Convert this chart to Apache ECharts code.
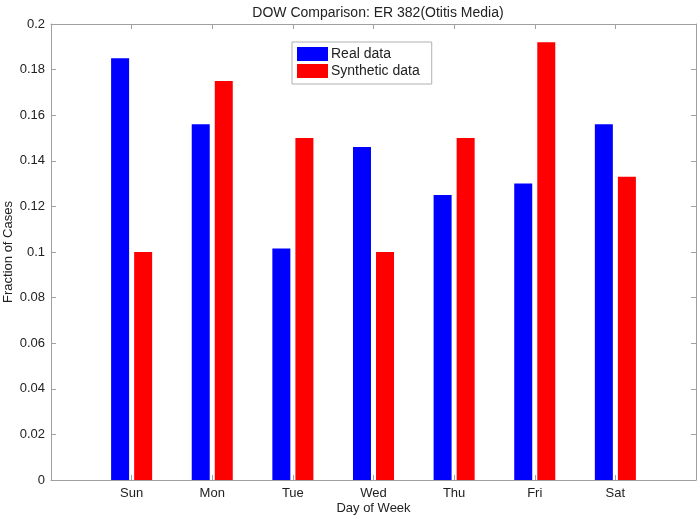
<!DOCTYPE html>
<html><head><meta charset="utf-8">
<script src="https://cdn.jsdelivr.net/npm/echarts@6/dist/echarts.min.js"></script>
<style>html,body{margin:0;padding:0;background:#fff}#c{width:698px;height:516px}</style>
</head><body><div id="c"></div>
<script>
const days = ['Sun','Mon','Tue','Wed','Thu','Fri','Sat'];
const realData = [0.185, 0.156, 0.1015, 0.146, 0.125, 0.130, 0.156];
const syntheticData = [0.100, 0.175, 0.150, 0.100, 0.150, 0.192, 0.133];
const yTicks = [0, 0.02, 0.04, 0.06, 0.08, 0.1, 0.12, 0.14, 0.16, 0.18, 0.2];

const font = 'Liberation Sans, Arial, sans-serif';
const axisCol = '#a0a0a0';
const chart = echarts.init(document.getElementById('c'));
const mk = arr => arr.map((v, i) => [i + 1, v]);
const lineStyle = {show: true, onZero: false, lineStyle: {color: axisCol, width: 1}};
const tick = {show: true, inside: true, length: 5, lineStyle: {color: axisCol}};
chart.setOption({
  animation: false,
  title: {text: 'DOW Comparison: ER 382(Otitis Media)', left: 373, textAlign: 'center', top: 1,
    textStyle: {fontFamily: font, fontSize: 14, fontWeight: 'normal', color: '#222'}},
  grid: {left: 51, right: 2, top: 24, bottom: 36, containLabel: false, outerBoundsMode: 'none'},
  legend: {orient: 'vertical', left: 292, top: 42, itemWidth: 31, itemHeight: 14, itemGap: 3,
    icon: 'rect', padding: [5, 12, 6, 5], borderColor: '#b0b0b0', borderWidth: 1,
    textStyle: {fontFamily: font, fontSize: 14, color: '#222', padding: [0, 0, 0, -2]},
    data: ['Real data', 'Synthetic data']},
  xAxis: [{type: 'value', min: 0, max: 8, interval: 1, position: 'bottom',
    name: 'Day of Week', nameLocation: 'middle', nameGap: 22, nameMoveOverlap: false,
    nameTextStyle: {fontFamily: font, fontSize: 13, color: '#222'},
    axisLine: lineStyle, splitLine: {show: false}, axisTick: tick,
    axisLabel: {fontFamily: font, fontSize: 13, color: '#222', margin: 7,
      formatter: v => (v >= 1 && v <= 7) ? days[v - 1] : ''}},
   {type: 'value', min: 0, max: 8, interval: 1, position: 'top',
    axisLine: lineStyle, splitLine: {show: false}, axisTick: tick, axisLabel: {show: false}}],
  yAxis: [{type: 'value', min: yTicks[0], max: yTicks[yTicks.length - 1], interval: 0.02, position: 'left',
    name: 'Fraction of Cases', nameLocation: 'middle', nameGap: 36, nameRotate: 90, nameMoveOverlap: false,
    nameTextStyle: {fontFamily: font, fontSize: 13, color: '#222'},
    axisLine: lineStyle, splitLine: {show: false}, axisTick: tick,
    axisLabel: {fontFamily: font, fontSize: 13, color: '#222', margin: 6,
      formatter: v => String(+v.toFixed(2))}},
   {type: 'value', min: 0, max: 0.2, interval: 0.02, position: 'right',
    axisLine: lineStyle, splitLine: {show: false}, axisTick: tick, axisLabel: {show: false}}],
  series: [
    {name: 'Real data', type: 'bar', data: mk(realData), barWidth: 18, barGap: '28%',
     itemStyle: {color: '#0000ff'}},
    {name: 'Synthetic data', type: 'bar', data: mk(syntheticData), barWidth: 18, barGap: '28%',
     itemStyle: {color: '#ff0000'}}
  ]
});
</script></body></html>
